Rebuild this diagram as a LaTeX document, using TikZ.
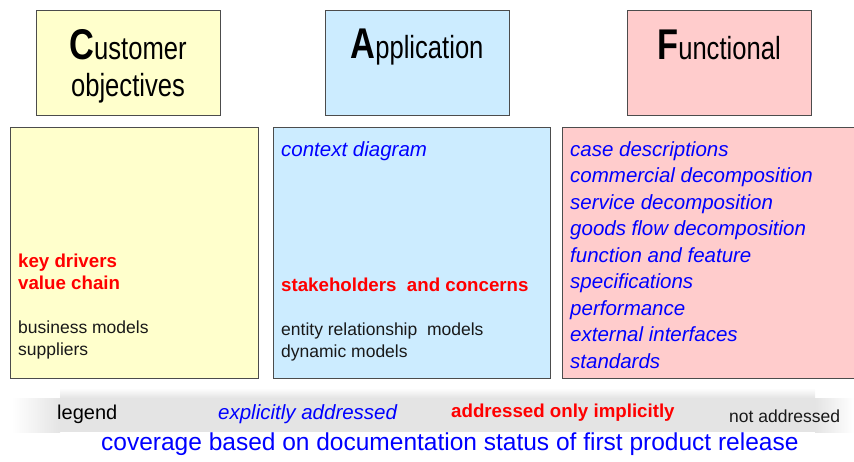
\documentclass[tikz,border=0pt]{standalone}
\usepackage{fontspec}
\usepackage{graphicx}
\setmainfont{Liberation Sans}
\usetikzlibrary{positioning}
\definecolor{custyellow}{RGB}{255,255,204}
\definecolor{appblue}{RGB}{204,236,255}
\definecolor{funcpink}{RGB}{255,204,204}
\definecolor{bandgray}{RGB}{228,228,228}
\newcommand{\headword}[2]{\scalebox{0.8}[1]{{\fontsize{43}{43}\selectfont\bfseries #1}\fontsize{32}{38}\selectfont #2}}
\tikzset{
  headbox/.style={draw=black!70,line width=1pt,minimum width=184pt,minimum height=105pt,anchor=north west,inner sep=0},
  bodybox/.style={draw=black!70,line width=1pt,minimum height=251pt,anchor=north west,inner sep=0},
  headtext/.style={anchor=base,inner sep=0},
  explicit/.style={text=blue,font=\fontsize{20.5}{26}\selectfont\itshape,anchor=base west,inner sep=0},
  implicit/.style={text=red,font=\fontsize{18.7}{23}\selectfont\bfseries,anchor=base west,inner sep=0},
  notaddr/.style={text=black!90,font=\fontsize{17.5}{23}\selectfont,anchor=base west,inner sep=0}
}
\begin{document}
\begin{tikzpicture}[x=1pt,y=-1pt]
\useasboundingbox (0,0) rectangle (854,461);
% headers
\node[headbox,fill=custyellow] (cust) at (36,10) {};
\node[headbox,fill=appblue] (app) at (325,10) {};
\node[headbox,fill=funcpink] (func) at (627,10) {};
\node[headtext] (custname) at (128,59) {\headword{C}{ustomer}};
\node[headtext] (custname2) at (128,96) {\scalebox{0.8}[1]{\fontsize{32}{38}\selectfont objectives}};
\node[headtext] (appname) at (417,58) {\headword{A}{pplication}};
\node[headtext] (funcname) at (719,59) {\headword{F}{unctional}};
% bodies
\node[bodybox,fill=custyellow,minimum width=248pt] (custbody) at (10,127) {};
\node[bodybox,fill=appblue,minimum width=277pt] (appbody) at (273,127) {};
\node[bodybox,fill=funcpink,minimum width=294pt] (funcbody) at (562,127) {};
% customer objectives
\node[implicit] (keydrv) at (18,267) {key drivers};
\node[implicit] (valchain) at (18,289) {value chain};
\node[notaddr] (busmod) at (18,333) {business models};
\node[notaddr] (suppl) at (18,355) {suppliers};
% application
\node[explicit] (context) at (281,156) {context diagram};
\node[implicit] (stake) at (281,291) {stakeholders\ \ and concerns};
\node[notaddr] (entity) at (281,335) {entity relationship\ \ models};
\node[notaddr] (dynmod) at (281,357) {dynamic models};
% functional
\foreach \txt [count=\i from 0] in {case descriptions,commercial decomposition,service decomposition,goods flow decomposition,function and feature,specifications,performance,external interfaces,standards}
  \node[explicit] (f\i) at (570,156+26.5*\i) {\txt};
% legend band
\fill[bandgray] (60,398) rectangle (815,432);
\shade[top color=white,bottom color=bandgray] (60,388) rectangle (815,398);
\shade[left color=white,right color=bandgray] (12,398) rectangle (60,432);
\shade[left color=bandgray,right color=white] (815,398) rectangle (854,432);
\node[anchor=base west,inner sep=0,font=\fontsize{20}{24}\selectfont] (legend) at (57,419) {legend};
\node[explicit] (legexpl) at (218,419) {explicitly addressed};
\node[implicit] (legimpl) at (451,417) {addressed only implicitly};
\node[notaddr] (legnot) at (729,422) {not addressed};
\node[anchor=base west,inner sep=0,text=blue,font=\fontsize{24.5}{28}\selectfont] (coverage) at (101,450) {coverage based on documentation status of first product release};
\end{tikzpicture}
\end{document}
